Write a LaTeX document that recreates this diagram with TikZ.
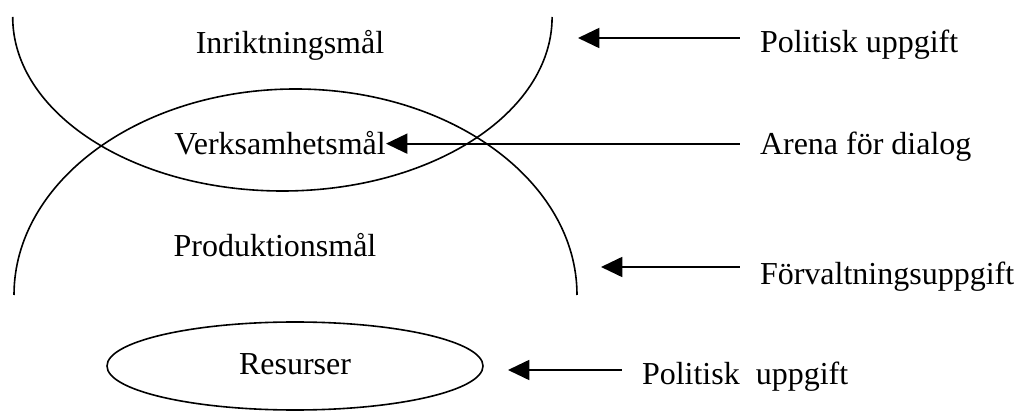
\documentclass[tikz,border=0pt]{standalone}
\usepackage{fontspec}
\setmainfont{Liberation Serif}
\usetikzlibrary{arrows.meta}

\tikzset{
	pil/.style={{Triangle[length=16pt,width=15pt]}-, line width=1.4pt},
	bue/.style={line width=1.2pt},
	uppgift/.style={anchor=base west, inner sep=0pt, outer xsep=15pt},
	mal/.style={anchor=base, inner sep=0pt}
}

\begin{document}
\begin{tikzpicture}[x=0.75pt, y=-0.75pt, font=\fontsize{24}{28}\selectfont]
	\useasboundingbox (0,0) rectangle (1017,416);
	\draw[bue] (12.7,17) arc[start angle=180, end angle=0, x radius=269.7, y radius=174];
	\draw[bue] (14,295) arc[start angle=180, end angle=360, x radius=281.5, y radius=206];
	\draw[bue] (295,366) ellipse [x radius=188, y radius=44];
	\node[mal] (inr) at (290,54) {Inriktningsmål};
	\node[mal] (verk) at (280,155) {Verksamhetsmål};
	\node[mal] (prod) at (275,257) {Produktionsmål};
	\node[mal] (res) at (295,375) {Resurser};
	\node[uppgift] (pol1) at (740,53) {Politisk uppgift};
	\node[uppgift] (arena) at (740,155) {Arena för dialog};
	\node[uppgift] (forv) at (740,285) {Förvaltningsuppgift};
	\node[uppgift] (pol2) at (622,385) {Politisk\ \ uppgift};
	\coordinate (t1) at (578,38);
	\coordinate (t3) at (601,267);
	\coordinate (t4) at (508,370);
	\draw[pil] (t1) -- (t1 -| pol1.west);
	\draw[pil] (verk.east) -- (verk.east -| arena.west);
	\draw[pil] (t3) -- (t3 -| forv.west);
	\draw[pil] (t4) -- (t4 -| pol2.west);
\end{tikzpicture}
\end{document}
